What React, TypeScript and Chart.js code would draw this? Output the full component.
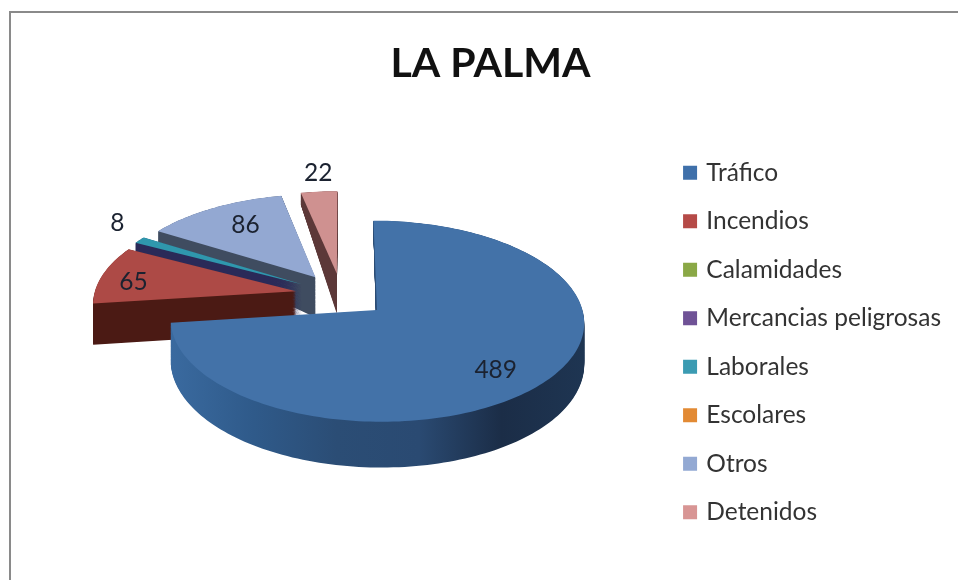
import React, { useEffect, useRef } from "react";
import { Chart, registerables } from "chart.js";

Chart.register(...registerables);

const categories = ["Tráfico", "Incendios", "Calamidades", "Mercancias peligrosas", "Laborales", "Escolares", "Otros", "Detenidos"];
const values = [489, 65, 0, 0, 8, 0, 86, 22];
const topColors = ["#4372a8", "#ad4a46", "#8aa846", "#6f5296", "#2f97ad", "#e28a34", "#93a8d2", "#cf9190"];
const legendColors = ["#3f70aa", "#b54a47", "#8aa846", "#6f5296", "#3b9bb2", "#e28a34", "#93a9d3", "#d89594"];
const wallStops = [
  ["#3a6a9f", "#2f5a8a", "#2b4d75", "#2a4a72", "#1b2d47", "#1e3552"],
  ["#4b1a14", "#4b1a14"],
  ["#4a5a28", "#4a5a28"],
  ["#2b2a55", "#2b2a55"],
  ["#2a2a58", "#2a2a58"],
  ["#7a4a1a", "#7a4a1a"],
  ["#3f4c60", "#3f4c60"],
  ["#5c3838", "#5c3838"],
];
// value label placement, relative to each slice's apex, in fractions of the radius
const labelDX = [0.53, -0.82, 0, 0, -1.01, 0, -0.385, -0.11];
const labelDY = [0.57, -0.1, 0, 0, -0.7, 0, -0.6, -1.25];

const EXPLODE = 0.23;
const PERSPECTIVE = 0.11;
const SCALE_X = 202;
const SCALE_Y = 96;
const SHIFT_X = -4.5;
const SHIFT_Y = -98.5;
const DEPTH_FRONT = 40;
const DEPTH_BACK = 41;

const pie3d = {
  id: "pie3d",
  beforeDatasetDraw() {
    return false;
  },
  afterDatasetsDraw(chart: any) {
    const ctx = chart.ctx;
    const meta = chart.getDatasetMeta(0);
    const arcs = meta.data;
    const first = arcs[0];
    const cx = first.x + SHIFT_X;
    const cy = first.y + SHIFT_Y;
    const project = (x: number, y: number) => {
      const w = 1 - PERSPECTIVE * y;
      return [cx + (SCALE_X * x) / w, cy + (SCALE_Y * y) / w];
    };
    const order = arcs
      .map((_: any, i: number) => i)
      .filter((i: number) => values[i] > 0)
      .sort((a: number, b: number) => {
        const ma = (arcs[a].startAngle + arcs[a].endAngle) / 2;
        const mb = (arcs[b].startAngle + arcs[b].endAngle) / 2;
        return Math.sin(ma) - Math.sin(mb);
      });
    const labels: any[] = [];
    for (const i of order) {
      const arc = arcs[i];
      const mid = (arc.startAngle + arc.endAngle) / 2;
      const ox = Math.cos(mid) * EXPLODE;
      const oy = Math.sin(mid) * EXPLODE;
      const outline: number[][] = [[ox, oy]];
      const steps = Math.max(6, Math.ceil((arc.endAngle - arc.startAngle) * 40));
      for (let s = 0; s <= steps; s++) {
        const a = arc.startAngle + ((arc.endAngle - arc.startAngle) * s) / steps;
        outline.push([ox + Math.cos(a), oy + Math.sin(a)]);
      }
      const top = outline.map((p) => project(p[0], p[1]));
      const depths = outline.map((p) => {
        const w = 1 - PERSPECTIVE * p[1];
        const dy = p[1] - oy;
        return ((i === 0 ? DEPTH_FRONT : DEPTH_BACK) / w) * Math.min(1, Math.max(0.33, 1 + 1.6 * dy));
      });
      const xs = top.map((p) => p[0]);
      const minX = Math.min(...xs);
      const maxX = Math.max(...xs);
      const grad = ctx.createLinearGradient(minX, 0, maxX, 0);
      wallStops[i].forEach((c, k) => grad.addColorStop(k / (wallStops[i].length - 1), c));
      ctx.save();
      ctx.fillStyle = grad;
      for (let t = 1; t > 0; t -= 0.02) {
        ctx.beginPath();
        top.forEach((p, k) => {
          const y = p[1] + depths[k] * t;
          if (k === 0) ctx.moveTo(p[0], y);
          else ctx.lineTo(p[0], y);
        });
        ctx.closePath();
        ctx.fill();
      }
      ctx.fillStyle = topColors[i];
      ctx.beginPath();
      top.forEach((p, k) => {
        if (k === 0) ctx.moveTo(p[0], p[1]);
        else ctx.lineTo(p[0], p[1]);
      });
      ctx.closePath();
      ctx.fill();
      ctx.restore();
      const lp = project(ox + labelDX[i], oy + labelDY[i]);
      labels.push([String(values[i]), lp[0], lp[1]]);
    }
    ctx.save();
    ctx.font = "24.5px Lato";
    ctx.fillStyle = "#1b2230";
    ctx.textAlign = "center";
    ctx.textBaseline = "middle";
    labels.forEach((l) => ctx.fillText(l[0], l[1], l[2]));
    ctx.restore();
  },
};

export default function App() {
  const ref = useRef<HTMLCanvasElement | null>(null);
  useEffect(() => {
    const chart = new Chart(ref.current as HTMLCanvasElement, {
      type: "pie",
      data: {
        labels: categories,
        datasets: [{ data: values, backgroundColor: legendColors, borderWidth: 0 }],
      },
      options: {
        responsive: false,
        animation: false,
        layout: { padding: { left: 30 } },
        plugins: {
          title: {
            display: true,
            text: "LA PALMA",
            color: "#111111",
            font: { family: "Lato", size: 41, weight: "bold" },
            padding: { top: 39, bottom: 14 },
          },
          legend: {
            position: "right",
            labels: {
              color: "#333333",
              font: { family: "Lato", size: 24.5 },
              boxWidth: 8,
              boxHeight: 8,
              padding: 24,
              generateLabels: () =>
                categories.map((text, index) => ({
                  text,
                  index,
                  fillStyle: legendColors[index],
                  strokeStyle: legendColors[index],
                  lineWidth: 6,
                  fontColor: "#333333",
                  hidden: false,
                })),
            },
          },
          tooltip: { enabled: false },
        },
      },
      plugins: [pie3d],
    } as any);
    return () => chart.destroy();
  }, []);
  return (
    <div style={{ position: "fixed", left: 0, top: 0, width: 958, height: 580, overflow: "hidden", background: "#ffffff" }}>
      <canvas ref={ref} width={951} height={685} style={{ display: "block", width: 951, height: 685, filter: "blur(0.5px)" }} />
      <div style={{ position: "absolute", left: 9, top: 11, right: 0, bottom: 0, borderLeft: "2px solid #8a8a8a", borderTop: "2px solid #8a8a8a" }} />
    </div>
  );
}
